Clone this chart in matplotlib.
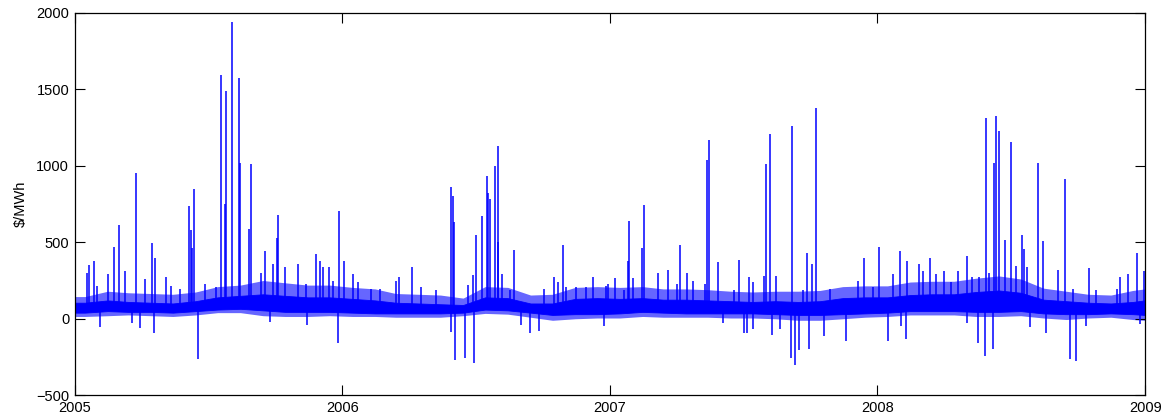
import numpy as np
import pandas as pd
import matplotlib
matplotlib.use("Agg")
import matplotlib.pyplot as plt
import matplotlib.dates as mdates

plt.rcParams['font.family'] = ['Liberation Sans', 'DejaVu Sans']

# hourly price trace read as a band per month: solid core + sparser outer fringe
band_dates = ['2005-01-01'] + [f'{y}-{m:02d}-15' for y in range(2005, 2009) for m in range(1, 13)] + ['2008-12-31']
core_lo = [40,
           40, 50, 45, 45, 40, 50, 60, 65, 55, 45, 45, 45,
           40, 35, 35, 35, 35, 40, 60, 55, 40, 25, 30, 30,
           35, 45, 40, 35, 35, 35, 35, 30, 25, 25, 30, 35,
           40, 50, 50, 50, 45, 45, 50, 35, 30, 30, 35, 30,
           25]
core_hi = [105,
           105, 120, 110, 105, 100, 115, 140, 150, 160, 150, 140, 140,
           130, 120, 105, 100, 95, 90, 140, 135, 100, 100, 130, 135,
           130, 135, 125, 125, 120, 115, 110, 115, 110, 115, 135, 140,
           140, 155, 160, 160, 175, 185, 170, 125, 115, 105, 100, 110,
           120]
outer_lo = [15,
            15, 20, 25, 20, 15, 25, 40, 40, 20, 15, 15, 20,
            15, 15, 10, 10, 10, 20, 35, 30, 10, -10, 0, 5,
            5, 15, 10, 10, 10, 5, 5, 0, -10, -10, 0, 10,
            15, 25, 25, 25, 15, 15, 20, 5, -5, 5, 10, -5,
            -10]
outer_hi = [145,
            145, 180, 170, 165, 160, 175, 210, 220, 250, 235, 220, 220,
            205, 195, 165, 160, 155, 135, 210, 205, 155, 160, 205, 210,
            205, 210, 195, 195, 190, 180, 175, 180, 180, 185, 210, 215,
            215, 240, 245, 245, 265, 280, 260, 200, 180, 160, 155, 185,
            195]

# single-hour spikes above / below the band
spike_dates = [
    '2005-01-18', '2005-01-21', '2005-01-27', '2005-02-01', '2005-02-16', '2005-02-24', '2005-03-02',
    '2005-03-10', '2005-03-25', '2005-04-07', '2005-04-16', '2005-04-20', '2005-05-05', '2005-05-13',
    '2005-05-24', '2005-06-06', '2005-06-08', '2005-06-10', '2005-06-13', '2005-06-28', '2005-07-13',
    '2005-07-19', '2005-07-25', '2005-07-27', '2005-08-03', '2005-08-13', '2005-08-15', '2005-08-27',
    '2005-08-30', '2005-09-12', '2005-09-17', '2005-09-29', '2005-10-04', '2005-10-06', '2005-10-15',
    '2005-11-01', '2005-11-13', '2005-11-26', '2005-12-02', '2005-12-06', '2005-12-14', '2005-12-19',
    '2005-12-28',
    '2006-01-03', '2006-01-16', '2006-01-23', '2006-02-09', '2006-02-21', '2006-03-16', '2006-03-20',
    '2006-04-06', '2006-04-19', '2006-05-09', '2006-05-30', '2006-06-01', '2006-06-03', '2006-06-22',
    '2006-06-29', '2006-07-03', '2006-07-11', '2006-07-17', '2006-07-19', '2006-07-21', '2006-07-28',
    '2006-08-01', '2006-08-02', '2006-08-07', '2006-08-18', '2006-08-23', '2006-10-03', '2006-10-17',
    '2006-10-23', '2006-10-29', '2006-11-02', '2006-11-16', '2006-11-30', '2006-12-09', '2006-12-27',
    '2006-12-30',
    '2007-01-08', '2007-01-20', '2007-01-26', '2007-01-28', '2007-02-02', '2007-02-14', '2007-02-17',
    '2007-03-08', '2007-03-22', '2007-04-03', '2007-04-07', '2007-04-16', '2007-04-25', '2007-05-11',
    '2007-05-14', '2007-05-16', '2007-05-29', '2007-06-20', '2007-06-27', '2007-07-10', '2007-07-16',
    '2007-07-31', '2007-08-03', '2007-08-08', '2007-08-16', '2007-09-07', '2007-09-22', '2007-09-27',
    '2007-10-04', '2007-10-09', '2007-10-28', '2007-12-06', '2007-12-14', '2007-12-27',
    '2008-01-03', '2008-01-22', '2008-02-01', '2008-02-11', '2008-02-27', '2008-03-04', '2008-03-13',
    '2008-03-22', '2008-04-01', '2008-04-11', '2008-04-21', '2008-05-03', '2008-05-09', '2008-05-19',
    '2008-05-28', '2008-06-01', '2008-06-09', '2008-06-11', '2008-06-15', '2008-06-23', '2008-07-01',
    '2008-07-08', '2008-07-16', '2008-07-20', '2008-07-23', '2008-08-07', '2008-08-14', '2008-09-04',
    '2008-09-14', '2008-09-24', '2008-10-16', '2008-10-25', '2008-11-23', '2008-11-27', '2008-12-09',
    '2008-12-21', '2008-12-30',
    # negative hours
    '2005-02-04', '2005-03-20', '2005-03-31', '2005-04-19', '2005-06-18', '2005-09-25', '2005-11-14',
    '2005-12-26', '2006-05-29', '2006-06-04', '2006-06-17', '2006-06-30', '2006-09-02', '2006-09-14',
    '2006-09-26', '2006-12-24', '2007-06-04', '2007-07-03', '2007-07-07', '2007-07-16', '2007-08-11',
    '2007-08-21', '2007-09-05', '2007-09-11', '2007-09-16', '2007-09-30', '2007-10-21', '2007-11-20',
    '2008-01-16', '2008-02-03', '2008-02-10', '2008-05-02', '2008-05-17', '2008-05-27', '2008-06-07',
    '2008-07-28', '2008-08-18', '2008-09-20', '2008-09-29', '2008-10-12', '2008-12-25',
]
spike_values = [
    300, 350, 375, 215, 290, 470, 610,
    315, 950, 260, 495, 400, 270, 215,
    195, 740, 580, 465, 845, 230, 205,
    1590, 750, 1490, 1940, 1575, 1015, 585,
    1010, 300, 440, 360, 525, 680, 340,
    360, 230, 420, 380, 335, 340, 250,
    705,
    380, 290, 240, 195, 195, 245, 275,
    340, 210, 185, 860, 805, 630, 220,
    285, 550, 670, 930, 825, 780, 1000,
    500, 1130, 295, 185, 450, 195, 275,
    240, 480, 205, 205, 205, 275, 215,
    230,
    265, 185, 380, 640, 265, 465, 745,
    300, 320, 230, 480, 300, 250, 230,
    1040, 1165, 370, 185, 385, 275, 240,
    280, 1010, 1205, 280, 1260, 185, 430,
    355, 1375, 195, 250, 395, 205,
    470, 295, 445, 380, 355, 315, 400,
    295, 315, 240, 315, 410, 270, 270,
    1310, 300, 1015, 1325, 1225, 515, 1155,
    345, 550, 455, 335, 1020, 505, 320,
    915, 195, 330, 190, 195, 275, 295,
    430, 315,
    -55, -25, -60, -95, -260, -20, -40,
    -160, -85, -270, -255, -290, -40, -95,
    -80, -45, -30, -95, -95, -65, -105,
    -65, -255, -300, -205, -195, -110, -145,
    -145, -45, -135, -25, -160, -245, -200,
    -55, -90, -265, -275, -45, -35,
]

bx = mdates.date2num(pd.to_datetime(band_dates))
c_lo = np.array(core_lo, dtype=float)
c_hi = np.array(core_hi, dtype=float)
sx = mdates.date2num(pd.to_datetime(spike_dates))
base = np.interp(sx, bx, (c_lo + c_hi) / 2)

fig = plt.figure(figsize=(11.68, 4.19), dpi=100)
ax = fig.add_axes([0.064, 0.0566, 0.9166, 0.9131])

ax.fill_between(bx, outer_lo, outer_hi, color='#0000ff', alpha=0.6, lw=0)
ax.fill_between(bx, c_lo, c_hi, color='#0000ff', lw=0.6, edgecolor='#0000ff')
ax.vlines(sx, base, spike_values, color='#0000ff', lw=1.1)

ax.set_xlim(mdates.date2num(pd.Timestamp('2005-01-01')), mdates.date2num(pd.Timestamp('2009-01-01')))
ax.set_ylim(-500, 2000)
ax.set_yticks(np.arange(-500, 2001, 500))
ax.xaxis.set_major_locator(mdates.YearLocator())
ax.xaxis.set_major_formatter(mdates.DateFormatter('%Y'))
ax.tick_params(direction='in', length=7, width=0.8, top=True, right=True, labelsize=10.5, pad=4)
for s in ax.spines.values():
    s.set_linewidth(0.9)
ax.set_ylabel('\\$/MWh', fontsize=10.5, labelpad=6)

fig.savefig('out.png', dpi=100)
